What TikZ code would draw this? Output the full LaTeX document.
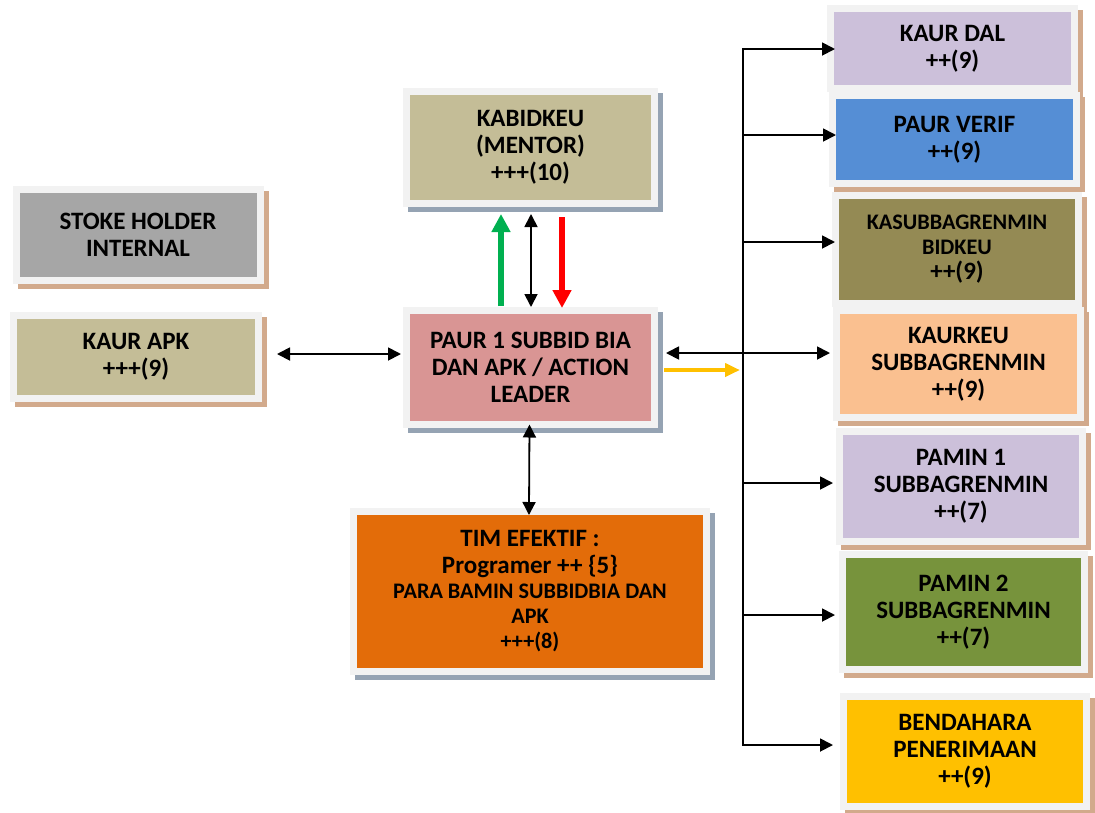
\documentclass[tikz,border=0pt]{standalone}
\usepackage{fontspec}
\setmainfont{Carlito}
\usetikzlibrary{arrows.meta}
\definecolor{framec}{HTML}{F2F2F2}
\definecolor{shtan}{HTML}{D2AA8C}
\definecolor{shblue}{HTML}{95A3B3}
\definecolor{cgray}{HTML}{A6A6A6}
\definecolor{ctan}{HTML}{C4BD97}
\definecolor{cpink}{HTML}{D99594}
\definecolor{corange}{HTML}{E36C09}
\definecolor{clav}{HTML}{CCC0DA}
\definecolor{cblue}{HTML}{558ED5}
\definecolor{colive}{HTML}{948A54}
\definecolor{cpeach}{HTML}{FAC090}
\definecolor{cgreen}{HTML}{77933C}
\definecolor{cgold}{HTML}{FFC000}
\definecolor{agreen}{HTML}{00B050}
\definecolor{ared}{HTML}{FF0000}
\definecolor{ayellow}{HTML}{FFC000}
\newcommand\mfont{\fontsize{25}{27}\selectfont\bfseries}
\newcommand\sfont{\fontsize{22.2}{25}\selectfont\bfseries}
\tikzset{
  sbox/.style n args={4}{draw=framec, line width=7pt, fill=#1, align=center,
    inner sep=0pt, outer sep=0pt, font=\mfont, text=black,
    minimum width=#3, minimum height=#4,
    preaction={draw=#2, fill=#2, line width=7pt, transform canvas={shift={(5pt,-5pt)}}}},
  conn/.style={line width=1.8pt, black},
  arr/.style={conn, -{Triangle[length=13pt,width=13pt]}},
  dbl/.style={conn, {Triangle[length=13pt,width=13pt]}-{Triangle[length=13pt,width=13pt]}},
  fat/.style={line width=6.5pt, -{Triangle[length=18pt,width=18pt]}},
  yarr/.style={line width=4pt, ayellow, -{Triangle[length=15pt,width=13pt]}},
}
\begin{document}
\begin{tikzpicture}[x=1pt,y=-1pt]
\useasboundingbox (0,0) rectangle (1095,812);
% left
\node[sbox={cgray}{shtan}{244pt}{91pt}] (stoke) at (138,234.5) {STOKE HOLDER\\INTERNAL};
\node[sbox={ctan}{shtan}{245pt}{83pt}] (kaurapk) at (136,357) {KAUR APK\\+++(9)};
% center
\node[sbox={ctan}{shblue}{248pt}{112pt}] (kab) at (530.5,147.5) {KABIDKEU\\(MENTOR)\\+++(10)};
\node[sbox={cpink}{shblue}{248pt}{114pt}] (paur) at (530.5,367.5) {PAUR 1 SUBBID BIA\\DAN APK / ACTION\\LEADER};
\node[sbox={corange}{shblue}{353pt}{160pt}] (tim) at (530,591.5) {TIM EFEKTIF :\\Programer ++ \{5\}\\[-2pt]\sfont PARA BAMIN SUBBIDBIA DAN\\[-2pt]\sfont APK\\[-2pt]\sfont +++(8)};
% right column
\node[sbox={clav}{shtan}{244pt}{80pt}] (kaurdal) at (952.5,48.5) {KAUR DAL\\++(9)};
\node[sbox={cblue}{shtan}{244pt}{88pt}] (paurverif) at (954.5,139.5) {PAUR VERIF\\++(9)};
\node[sbox={colive}{shtan}{243pt}{108pt}] (kasub) at (957,249.5) {\sfont KASUBBAGRENMIN\\[-2pt]\sfont BIDKEU\\[-2pt]++(9)};
\node[sbox={cpeach}{shtan}{244pt}{107pt}] (kaurkeu) at (958.5,364) {KAURKEU\\SUBBAGRENMIN\\++(9)};
\node[sbox={clav}{shtan}{243pt}{110pt}] (pamin1) at (961,486.5) {PAMIN 1\\SUBBAGRENMIN\\++(7)};
\node[sbox={cgreen}{shtan}{242pt}{115pt}] (pamin2) at (963.5,612) {PAMIN 2\\SUBBAGRENMIN\\++(7)};
\node[sbox={cgold}{shtan}{243pt}{110pt}] (bend) at (965,751.5) {BENDAHARA\\PENERIMAAN\\++(9)};
% vertical arrows between KABIDKEU and PAUR
\draw[fat, agreen, shorten <=4.5pt, shorten >=10.5pt] ([xshift=-29.5pt]paur.north) -- ([xshift=-29.5pt]kab.south);
\draw[dbl, shorten <=3.5pt, shorten >=10.5pt] ([xshift=0.5pt]paur.north) -- ([xshift=0.5pt]kab.south);
\draw[fat, ared, shorten <=13.5pt, shorten >=2.5pt] ([xshift=31.5pt]kab.south) -- ([xshift=31.5pt]paur.north);
% PAUR - TIM
\draw[dbl, shorten >=-3.5pt] ([xshift=-1pt]paur.south) -- ([xshift=-1pt]tim.north);
% KAUR APK - PAUR
\coordinate (la) at ([yshift=3pt]kaurapk.east);
\draw[dbl, shorten <=18.5pt, shorten >=5.5pt] (la) -- (la -| paur.west);
% bus
\coordinate (b1) at (743,49);
\coordinate (b2) at (743,135);
\coordinate (b3) at (743,242);
\coordinate (b5) at (743,483);
\coordinate (b6) at (743,615);
\coordinate (b7) at (743,745);
\draw[arr, shorten >=-4.5pt] (b7) -- (b1) -- (b1 -| kaurdal.west);
\draw[arr, shorten >=10.5pt] (b1) -- (b7) -- (b7 -| bend.west);
\draw[arr, shorten >=-3.5pt] (b2) -- (b2 -| paurverif.west);
\draw[arr, shorten >=0.5pt] (b3) -- (b3 -| kasub.west);
\draw[arr, shorten >=6.5pt] (b5) -- (b5 -| pamin1.west);
\draw[arr, shorten >=7.5pt] (b6) -- (b6 -| pamin2.west);
% PAUR - KAURKEU
\coordinate (ra) at ([yshift=14.5pt]paur.east);
\draw[dbl, shorten <=11.5pt, shorten >=6.5pt] (ra) -- (ra -| kaurkeu.west);
% yellow
\coordinate (ya) at ([yshift=-2.5pt]paur.east);
\draw[yarr, shorten <=9.5pt, shorten >=3pt] (ya) -- (ya -| b1);
\end{tikzpicture}
\end{document}
